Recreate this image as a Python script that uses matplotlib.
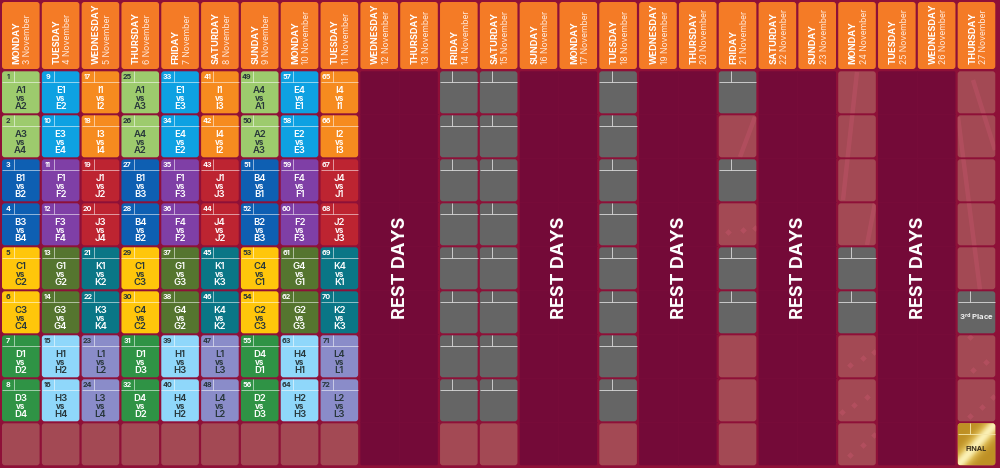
import numpy as np
import matplotlib
matplotlib.use("Agg")
import matplotlib.pyplot as plt
from matplotlib.colors import LinearSegmentedColormap
from matplotlib.patches import FancyBboxPatch

plt.rcParams['font.family'] = ['Inter', 'DejaVu Sans']
plt.rcParams['mathtext.default'] = 'regular'

# ---------- data ----------
weekdays = ["MONDAY", "TUESDAY", "WEDNESDAY", "THURSDAY", "FRIDAY", "SATURDAY", "SUNDAY",
            "MONDAY", "TUESDAY", "WEDNESDAY", "THURSDAY", "FRIDAY", "SATURDAY", "SUNDAY",
            "MONDAY", "TUESDAY", "WEDNESDAY", "THURSDAY", "FRIDAY", "SATURDAY", "SUNDAY",
            "MONDAY", "TUESDAY", "WEDNESDAY", "THURSDAY"]
dates = [f"{d} November" for d in
         [3, 4, 5, 6, 7, 8, 9, 10, 11, 12, 13, 14, 15, 16, 17, 18, 19, 20, 21, 22, 23, 24, 25, 26, 27]]

row1 = ["A1 A2", "E1 E2", "I1 I2", "A1 A3", "E1 E3", "I1 I3", "A4 A1", "E4 E1", "I4 I1"]
row2 = ["A3 A4", "E3 E4", "I3 I4", "A4 A2", "E4 E2", "I4 I2", "A2 A3", "E2 E3", "I2 I3"]
row3 = ["B1 B2", "F1 F2", "J1 J2", "B1 B3", "F1 F3", "J1 J3", "B4 B1", "F4 F1", "J4 J1"]
row4 = ["B3 B4", "F3 F4", "J3 J4", "B4 B2", "F4 F2", "J4 J2", "B2 B3", "F2 F3", "J2 J3"]
row5 = ["C1 C2", "G1 G2", "K1 K2", "C1 C3", "G1 G3", "K1 K3", "C4 C1", "G4 G1", "K4 K1"]
row6 = ["C3 C4", "G3 G4", "K3 K4", "C4 C2", "G4 G2", "K4 K2", "C2 C3", "G2 G3", "K2 K3"]
row7 = ["D1 D2", "H1 H2", "L1 L2", "D1 D3", "H1 H3", "L1 L3", "D4 D1", "H4 H1", "L4 L1"]
row8 = ["D3 D4", "H3 H4", "L3 L4", "D4 D2", "H4 H2", "L4 L2", "D2 D3", "H2 H3", "L2 L3"]
fixtures = [row1, row2, row3, row4, row5, row6, row7, row8]
match_no_row = [1, 2, 3, 4, 5, 6, 7, 8]
match_no_step = [0, 8, 16, 24, 32, 40, 48, 56, 64]

rest_pairs = [(9, 10), (13, 14), (16, 17), (19, 20), (22, 23)]
later_days = {11: "GGGGGGGGP", 12: "GGGGGGGGP", 15: "GGGGGGGGP",
              18: "GPGPGGPPP", 21: "PPPPGGPPP", 24: "PPPPPTPPF"}
group_colors = {"A": ("#9DCB6D", "#27363A"), "B": ("#0E5FB2", "#FFFFFF"), "C": ("#FFC60B", "#27363A"),
                "D": ("#2F9345", "#FFFFFF"), "E": ("#0EA1E2", "#FFFFFF"), "F": ("#7F3FA6", "#FFFFFF"),
                "G": ("#55752F", "#FFFFFF"), "H": ("#8FD7FA", "#27363A"), "I": ("#F68B1F", "#FFFFFF"),
                "J": ("#BD2431", "#FFFFFF"), "K": ("#0A7686", "#FFFFFF"), "L": ("#8A8CC9", "#27363A")}

# faint background motif showing through the empty cells
streak_x = [[857, 843], [875, 867], [755, 740], [958, 980], [973, 995]]
streak_y = [[72, 200], [203, 245], [117, 157], [117, 290], [80, 150]]
dot_x = [850, 863, 874, 842, 854, 867, 850, 863, 874, 970, 973, 986, 970, 982, 993, 728, 743, 755]
dot_y = [365, 358, 352, 412, 405, 397, 455, 445, 435, 337, 370, 362, 416, 407, 397, 232, 230, 228]

# ---------- style ----------
BG, REST, PINK, GREY, HEAD = "#8E1038", "#740A38", "#A34954", "#656565", "#F47B26"
X0, PX, CW = 2.0, 39.82, 37.6
Y0, PY, CH = 71.3, 44.0, 42.0

fig = plt.figure(figsize=(10, 4.68), dpi=100, facecolor=BG)
ax = fig.add_axes([0, 0, 1, 1])
ax.set_xlim(0, 1000)
ax.set_ylim(468, 0)
ax.axis("off")


def box(x, y, w, h, color, z=2, r=2.8):
    p = FancyBboxPatch((x, y), w, h, boxstyle=f"round,pad=0,rounding_size={r}",
                       fc=color, ec="none", zorder=z)
    ax.add_patch(p)
    return p


def cell_lines(x, y, color="#E9E9E9", alpha=0.75):
    ax.plot([x, x + CW], [y + 11, y + 11], color=color, alpha=alpha, lw=0.7, zorder=4, solid_capstyle="butt")
    ax.plot([x + 12.3, x + 12.3], [y, y + 11], color=color, alpha=alpha, lw=0.7, zorder=4, solid_capstyle="butt")


# header row
for c, (wd, dt) in enumerate(zip(weekdays, dates)):
    x = X0 + c * PX
    box(x, 2, CW, 67, HEAD)
    ax.text(x + 15.0, 63.5, wd, rotation=90, ha="center", va="bottom", color="white",
            fontsize=6.6, fontweight="bold", zorder=5)
    ax.text(x + 26.0, 63.5, dt, rotation=90, ha="center", va="bottom", color="#FFE9DA",
            fontsize=6.2, zorder=5)

# rest-day blocks
for a, b in rest_pairs:
    xa = X0 + a * PX
    xb = X0 + b * PX + CW
    box(xa, Y0, xb - xa, 8 * PY + CH, REST, r=1.5)
    seam = xa + CW + (PX - CW) / 2
    ax.plot([seam, seam], [Y0, Y0 + 8 * PY + CH], color="#780C3A", lw=0.6, zorder=3)
    for r in range(1, 9):
        ys = Y0 + r * PY - (PY - CH) / 2
        ax.plot([xa, xb], [ys, ys], color="#780C3A", lw=0.6, zorder=3)
    ax.text((xa + xb) / 2 + 1.5, 268, "REST DAYS", rotation=90, ha="center", va="center",
            color="white", fontsize=13, fontweight="bold", zorder=5)

# group-stage matches
for r, row in enumerate(fixtures):
    y = Y0 + r * PY
    for c, fx in enumerate(row):
        x = X0 + c * PX
        t1, t2 = fx.split()
        fc, tc = group_colors[t1[0]]
        box(x, y, CW, CH, fc)
        cell_lines(x, y, color="#FFFFFF", alpha=0.55)
        num = match_no_row[r] + match_no_step[c]
        ax.text(x + 6, y + 7.8, str(num), ha="center", va="baseline", color=tc,
                fontsize=5.2, fontweight="bold", zorder=5)
        cx = x + CW / 2
        ax.text(cx, y + 21.8, t1, ha="center", va="baseline", color=tc, fontsize=6.8, fontweight="semibold", zorder=5)
        ax.text(cx, y + 30.0, "vs", ha="center", va="baseline", color=tc, fontsize=5.8, fontweight="bold", zorder=5)
        ax.text(cx, y + 37.7, t2, ha="center", va="baseline", color=tc, fontsize=6.8, fontweight="semibold", zorder=5)

# bottom empty row of the first nine days
for c in range(9):
    box(X0 + c * PX, Y0 + 8 * PY, CW, CH, PINK)

# knockout days
pink_cells = []
ramp = np.linspace(0, 1, 64)[None, :] + np.linspace(0, 1, 64)[:, None]
gold_bands = np.exp(-((ramp - 1.0) / 0.28) ** 2)
gold_map = LinearSegmentedColormap.from_list("gold", ["#BE9024", "#DDBB55", "#FBF0B4"])
for c, states in later_days.items():
    x = X0 + c * PX
    for r, s in enumerate(states):
        y = Y0 + r * PY
        if s == "P":
            pink_cells.append(box(x, y, CW, CH, PINK))
        elif s in "GT":
            box(x, y, CW, CH, GREY)
            cell_lines(x, y, color="#DDDDDD", alpha=0.85)
            if s == "T":
                ax.text(x + CW / 2, y + 26, "3$^{rd}$ Place", ha="center", va="center",
                        color="#F2F2F2", fontsize=5.6, fontweight="bold", zorder=5)
        elif s == "F":
            clip = box(x, y, CW, CH, "#D9B44A")
            im = ax.imshow(gold_bands, extent=(x, x + CW, y + CH, y), cmap=gold_map, zorder=3, aspect="auto")
            im.set_clip_path(clip)
            cell_lines(x, y, color="#F5E7A8", alpha=0.9)
            ax.text(x + CW / 2, y + 27.5, "FINAL", ha="center", va="baseline", color="#3A2E1A",
                    fontsize=5.2, fontweight="bold", zorder=5)

# background motif, kept inside the empty cells
for cell in pink_cells:
    for xs, ys in zip(streak_x, streak_y):
        ln, = ax.plot(xs, ys, color="#C25468", alpha=0.45, lw=3.2, zorder=3, solid_capstyle="butt")
        ln.set_clip_path(cell)
    pts, = ax.plot(dot_x, dot_y, ls="none", marker="D", ms=3.4, mfc="#C25468", mec="none", alpha=0.5, zorder=3)
    pts.set_clip_path(cell)

ax.set_xlim(0, 1000)
ax.set_ylim(468, 0)
fig.savefig("out.png", dpi=100, facecolor=BG)
